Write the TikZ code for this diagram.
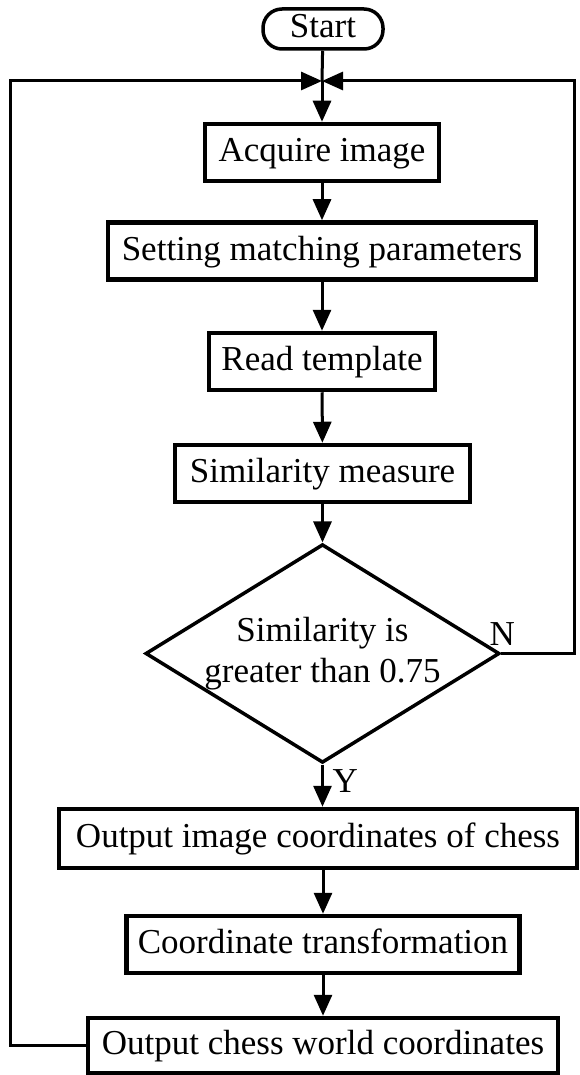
\documentclass[tikz,border=0pt]{standalone}
\usepackage{fontspec}
\setmainfont{Liberation Serif}
\usetikzlibrary{shapes,arrows.meta,positioning,calc}

\begin{document}
\begin{tikzpicture}[
    x=1pt, y=1pt,
    box/.style={rectangle, draw=black, line width=4.5pt, minimum height=57pt,
                inner sep=0pt, text height=25pt, text depth=7pt, text centered,
                font=\fontsize{35}{41}\selectfont},
    startbox/.style={rectangle, rounded corners=19pt, draw=black, line width=3.5pt,
                     minimum width=120pt, minimum height=40pt, inner sep=0pt,
                     text height=25pt, text depth=7pt, font=\fontsize{35}{41}\selectfont},
    decision/.style={diamond, draw=black, line width=3.5pt, aspect=1.62, inner sep=0pt,
                     minimum width=345pt, minimum height=213pt, align=center,
                     font=\fontsize{35}{41}\selectfont},
    conn/.style={line width=3pt},
    arrow/.style={-{Triangle[length=21pt, width=18pt]}, line width=3pt},
    yn/.style={inner sep=0pt, font=\fontsize{35}{41}\selectfont}
]
\useasboundingbox (0,0) rectangle (579,-1075);

% Start
\node[startbox] (start) at (323, -29) {Start};
\coordinate (join) at (322, -81);

% Main chain
\node[box, minimum width=234pt] (acquire) at (322, -152.5) {Acquire image};
\node[box, minimum width=428pt] (setting) at (322, -251) {Setting matching parameters};
\node[box, minimum width=226pt] (read) at (322, -361.5) {Read template};
\node[box, minimum width=295pt] (simil) at (322.5, -473.5) {Similarity measure};

% Decision
\node[decision] (check) at (322.5, -653.5) {Similarity is\\greater than 0.75};
\node[yn, anchor=base] (nlab) at ([xshift=1pt, yshift=8pt]check.east) {N};
\node[yn, anchor=base west] (ylab) at ([xshift=10pt, yshift=-28pt]check.south) {Y};

% Output
\node[box, minimum width=518pt, minimum height=59pt] (outimg) at (318, -838.5) {Output image coordinates of chess};
\node[box, minimum width=393pt] (coord) at (323, -944.5) {Coordinate transformation};
\node[box, minimum width=470pt, minimum height=55pt] (world) at (323, -1045.5) {Output chess world coordinates};

% Arrows
\draw[conn] (start) -- (join);
\draw[arrow] (join) -- (acquire);
\draw[arrow] (acquire) -- (setting);
\draw[arrow] (setting) -- (read);
\draw[arrow] (read) -- (simil);
\draw[arrow] (simil) -- (check);
\draw[arrow] (check.south) -- (check.south |- outimg.north);
\draw[arrow] (outimg.south -| coord.north) -- (coord.north);
\draw[arrow] (coord) -- (world);

% Loops back
\draw[arrow] (check.east) -- ([xshift=73pt]check.east) |- (join);
\draw[arrow] (world.west) -- ([xshift=-75pt]world.west) |- (join);

\end{tikzpicture}
\end{document}
